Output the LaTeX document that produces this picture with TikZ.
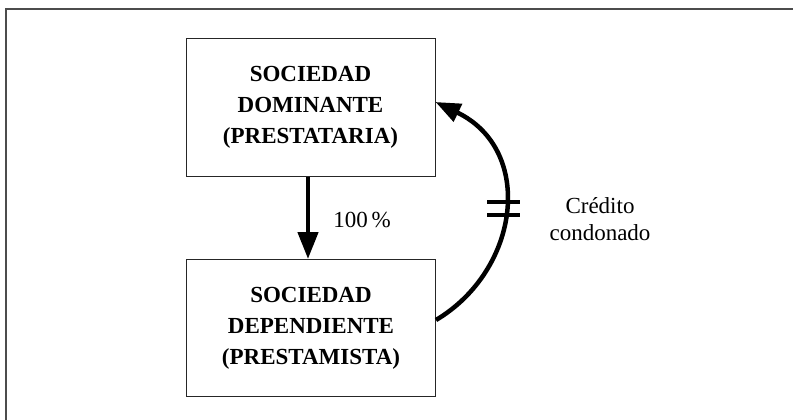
\documentclass[tikz,border=0pt]{standalone}
\usepackage{fontspec}
\setmainfont{Liberation Serif}
\usetikzlibrary{arrows.meta}
\begin{document}
\begin{tikzpicture}[x=1pt,y=-1pt,
  box/.style={draw=black!85,line width=1pt,minimum width=249pt,minimum height=137pt,
    align=center,inner sep=0pt,font=\bfseries\fontsize{23}{31}\selectfont},
  lbl/.style={align=center,inner sep=0pt,font=\fontsize{23}{27}\selectfont},
  arr/.style={line width=4.5pt,-{Triangle[length=27pt,width=20pt]}},
  carr/.style={line width=4.5pt,-{Triangle[length=25pt,width=19pt]}},
  frame/.style={draw=black!70,line width=1.6pt}]
\useasboundingbox (0,0) rectangle (793,420);
\clip (0,0) rectangle (793,420);
\draw[frame] (6,9) rectangle (830,450);
\node[box] (top) at (310.5,107.5) {SOCIEDAD\\DOMINANTE\\(PRESTATARIA)};
\node[box] (bot) at (311,328) {SOCIEDAD\\DEPENDIENTE\\(PRESTAMISTA)};
\draw[arr] ([xshift=-2.5pt]top.south) -- ([xshift=-3pt]bot.north);
\node[lbl,anchor=base] (pct) at (362,227) {100\,\%};
\draw[carr] ([yshift=8pt]bot.east) .. controls (520,270) and (535,150) .. ([yshift=5.5pt]top.east);
\draw[line width=3.5pt] (487,202) -- (520,202);
\draw[line width=3.5pt] (487,215) -- (520,215);
\node[lbl,anchor=base] (cred) at (600,213) {Crédito};
\node[lbl,anchor=base] (cond) at (600,240) {condonado};
\end{tikzpicture}
\end{document}
